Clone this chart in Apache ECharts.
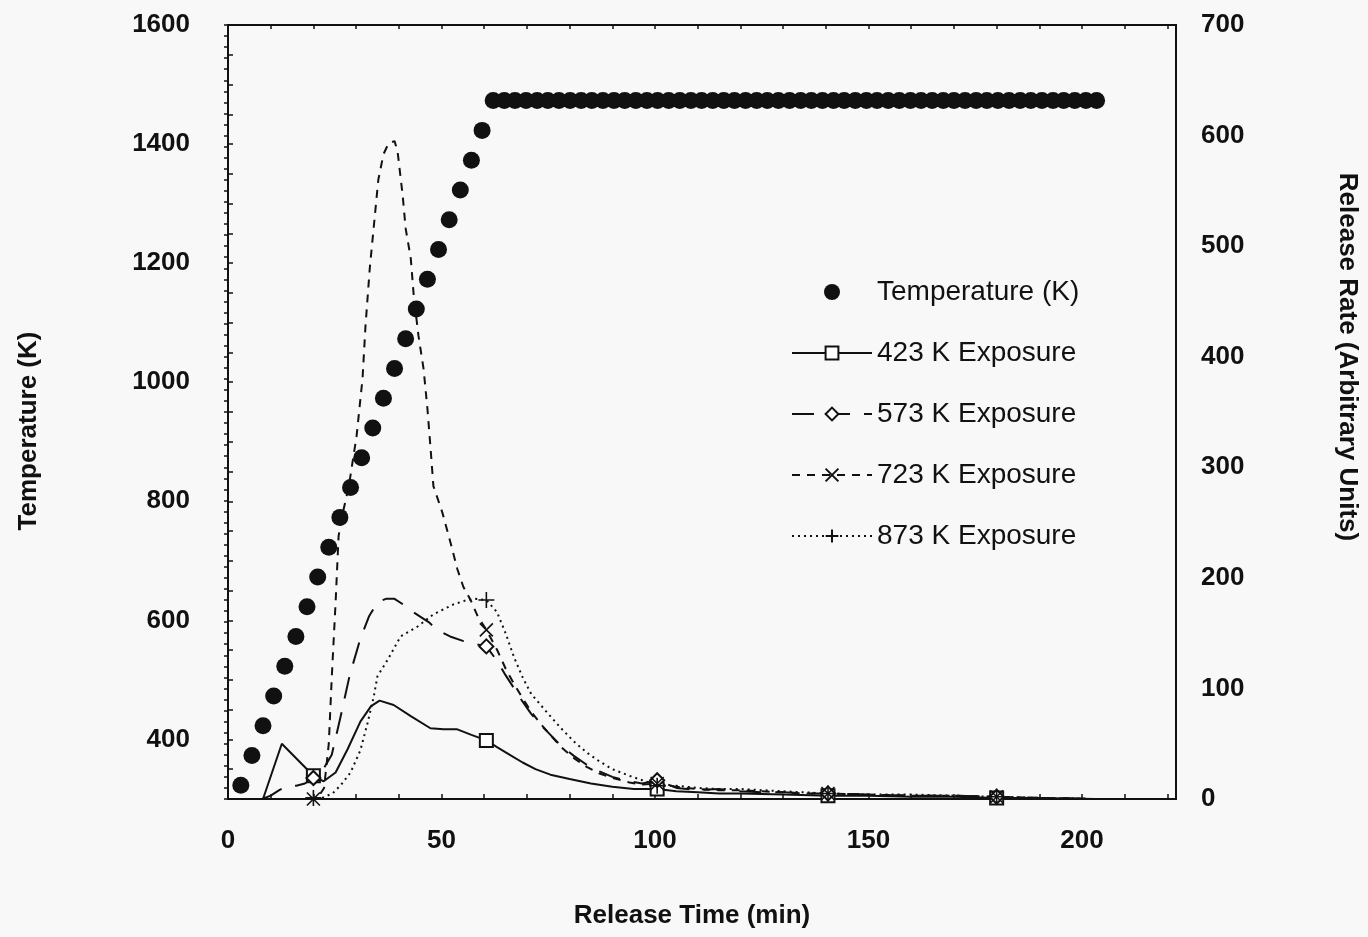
<!DOCTYPE html>
<html lang="en">
<head>
<meta charset="UTF-8">
<title>Release rate vs temperature</title>
<script src="https://cdn.jsdelivr.net/npm/echarts@6/dist/echarts.min.js"></script>
<style>
  html, body { margin: 0; padding: 0; background: #f8f8f8; }
  #box { width: 1368px; height: 937px; }
</style>
</head>
<body>
<div id="box"></div>
<script>
// temperature ramp (left axis, K)
var tempTime = [3.0, 5.6, 8.2, 10.7, 13.3, 15.9, 18.5, 21.0, 23.6, 26.2, 28.7, 31.3, 33.9, 36.4, 39.0, 41.6, 44.1, 46.7, 49.3, 51.8, 54.4, 57.0, 59.5,
  62.1, 64.7, 67.2, 69.8, 72.4, 74.9, 77.5, 80.1, 82.7, 85.2, 87.8, 90.4, 92.9, 95.5, 98.1, 100.6, 103.2, 105.8, 108.4, 110.9,
  113.5, 116.1, 118.6, 121.2, 123.8, 126.3, 128.9, 131.5, 134.1, 136.6, 139.2, 141.8, 144.3, 146.9, 149.5, 152.0, 154.6, 157.2,
  159.8, 162.3, 164.9, 167.5, 170.0, 172.6, 175.2, 177.7, 180.3, 182.9, 185.5, 188.0, 190.6, 193.2, 195.7, 198.3, 200.9, 203.4];
var tempK = [323, 373, 423, 473, 523, 573, 623, 673, 723, 773, 823, 873, 923, 973, 1023, 1073, 1123, 1173, 1223, 1273, 1323, 1373, 1423,
  1473, 1473, 1473, 1473, 1473, 1473, 1473, 1473, 1473, 1473, 1473, 1473, 1473, 1473, 1473, 1473, 1473, 1473, 1473, 1473,
  1473, 1473, 1473, 1473, 1473, 1473, 1473, 1473, 1473, 1473, 1473, 1473, 1473, 1473, 1473, 1473, 1473, 1473,
  1473, 1473, 1473, 1473, 1473, 1473, 1473, 1473, 1473, 1473, 1473, 1473, 1473, 1473, 1473, 1473, 1473, 1473];

// release rates (right axis, arbitrary units)
var r423Time = [8.2, 12.6, 20, 22.4, 25.2, 28, 31, 33.5, 35.5, 38.8, 42.8, 47.4, 50.5, 53.7, 57, 60.5, 63, 66, 69, 72,
  75.5, 80, 85, 90, 95, 100.5, 105, 110, 115, 120, 130, 140.5, 150, 160, 170, 180, 190, 203];
var r423Rate = [0, 50, 21, 16, 24, 45, 70, 84, 89, 85, 75, 64, 63, 63, 58, 53, 47, 40, 33, 27,
  22, 18, 14, 11, 9, 9, 7, 6, 5, 5, 4, 3, 3, 2, 2, 1, 1, 0];

var r573Time = [8, 10, 12, 13.5, 16, 18, 20, 22, 24.3, 26.4, 28.5, 31, 33, 35, 37, 39, 41, 43, 45, 47,
  49, 52, 55, 58, 60.5, 63, 65, 67, 69, 71, 73, 75, 78, 81, 84, 87, 90, 94, 97, 100.5,
  105, 110, 115, 120, 125, 130, 135, 140.5, 150, 160, 170, 180, 190, 203];
var r573Rate = [0, 3, 8, 11, 12, 14, 19, 25, 40, 75, 112, 145, 165, 178, 181, 181, 176, 170, 165, 160,
  153, 147, 143, 140, 138, 125, 112, 100, 88, 77, 68, 60, 48, 39, 31, 25, 20, 16, 14, 17,
  10, 8, 9, 7, 6, 6, 5, 5, 4, 3, 3, 2, 1, 0];

var r723Time = [8, 18, 20, 21.5, 22.5, 23.6, 24.3, 25.2, 25.9, 26.9, 28.3, 30.1, 31.5, 32.2, 33.2, 34.2, 35.2, 36.4, 37.6, 39,
  39.7, 40.9, 41.6, 42.8, 43.5, 44.6, 45.8, 46.7, 47.4, 48.1, 50.2, 52.1, 53.7, 55.1, 56.8, 58.5, 60.5,
  63, 65, 67, 69, 71, 73, 75, 78, 81, 84, 87, 90, 94, 97, 100.5,
  105, 110, 115, 120, 125, 130, 135, 140.5, 150, 160, 170, 180, 190, 203];
var r723Rate = [0, 0, 0, 4, 10, 50, 110, 178, 238, 259, 283, 328, 380, 428, 480, 520, 560, 583, 593, 595,
  586, 546, 516, 489, 455, 419, 389, 353, 319, 283, 259, 232, 208, 192, 180, 165, 153,
  135, 118, 104, 91, 79, 69, 60, 47, 37, 29, 23, 19, 15, 13, 14,
  11, 9, 8, 8, 7, 6, 5, 5, 4, 3, 3, 2, 1, 0];

var r873Time = [8, 18, 20, 22, 24.5, 26.5, 28.7, 31, 32.7, 34.1, 35, 37.4, 40.4, 44.4, 48.1, 52.8, 56, 58, 60.5,
  63, 65, 67, 69, 71, 73, 75, 78, 81, 84, 87, 90, 94, 97, 100.5,
  105, 110, 115, 120, 125, 130, 135, 140.5, 150, 160, 170, 180, 190, 203];
var r873Rate = [0, 0, 1, 1, 5, 13, 24, 44, 69, 92, 111, 126, 147, 156, 167, 176, 180, 181, 180,
  169, 150, 128, 110, 95, 86, 77, 64, 52, 42, 34, 27, 21, 17, 12,
  12, 10, 9, 9, 8, 7, 6, 5, 4, 4, 3, 2, 1, 0];

// times where the curves carry a symbol
var markerTimes = [20, 60.5, 100.5, 140.5, 180];

var font = 'Liberation Sans, Arial, sans-serif';
var ink = '#111';

function pairs(times, vals) {
  return times.map(function (t, i) { return [t, vals[i]]; });
}
// only every 40 min a marker, like the original plot
function withMarkers(times, vals) {
  return times.map(function (t, i) {
    if (markerTimes.indexOf(t) >= 0) return [t, vals[i]];
    return { value: [t, vals[i]], symbol: 'none' };
  });
}

function rateSeries(name, times, vals, symbol, size, dash) {
  return {
    name: name,
    type: 'line',
    xAxisIndex: 0,
    yAxisIndex: 1,
    data: withMarkers(times, vals),
    symbol: symbol,
    symbolSize: size,
    showAllSymbol: true,
    z: 3,
    lineStyle: { color: ink, width: 2, type: dash },
    itemStyle: { color: ink, borderColor: ink, borderWidth: 1.6 }
  };
}

var chart = echarts.init(document.getElementById('box'));
chart.setOption({
  backgroundColor: '#f8f8f8',
  animation: false,
  textStyle: { fontFamily: font, color: ink },
  grid: {
    left: 228, right: 190, top: 25, bottom: 138,
    show: true, borderColor: ink, borderWidth: 2, backgroundColor: 'transparent'
  },
  legend: {
    orient: 'vertical',
    left: 786,
    top: 272,
    itemWidth: 80,
    itemHeight: 16,
    itemGap: 31,
    textStyle: { fontFamily: font, fontSize: 28, color: ink, lineHeight: 30 },
    data: ['Temperature (K)', '423 K Exposure', '573 K Exposure', '723 K Exposure', '873 K Exposure']
  },
  xAxis: [{
    type: 'value',
    min: 0, max: 222, interval: 10,
    position: 'bottom',
    name: 'Release Time (min)',
    nameLocation: 'middle',
    nameGap: 104,
    nameTextStyle: { fontFamily: font, fontSize: 26, fontWeight: 'bold', color: ink, padding: [0, 20, 0, 0] },
    axisLine: { lineStyle: { color: ink, width: 2 } },
    axisTick: { inside: true, length: 5, lineStyle: { color: ink, width: 1.5 } },
    axisLabel: {
      fontSize: 26, fontWeight: 'bold', color: ink, margin: 29, showMaxLabel: false,
      formatter: function (v) { return v % 50 === 0 ? String(v) : ''; }
    },
    splitLine: { show: false }
  }, {
    type: 'value',
    min: 0, max: 222, interval: 10,
    position: 'top',
    axisLine: { lineStyle: { color: ink, width: 2 } },
    axisTick: { inside: true, length: 4, lineStyle: { color: ink, width: 1.5 } },
    axisLabel: { show: false },
    splitLine: { show: false }
  }],
  yAxis: [{
    type: 'value',
    min: 300, max: 1600, interval: 50,
    position: 'left',
    name: 'Temperature (K)',
    nameLocation: 'middle',
    nameGap: 186,
    nameTextStyle: { fontFamily: font, fontSize: 26, fontWeight: 'bold', color: ink, padding: [0, 38, 0, 0] },
    axisLine: { show: true, lineStyle: { color: ink, width: 2 } },
    axisTick: { show: true, inside: true, length: 5, lineStyle: { color: ink, width: 1.5 } },
    axisLabel: {
      fontSize: 26, fontWeight: 'bold', color: ink, margin: 38,
      formatter: function (v) { return v % 200 === 0 ? String(v) : ''; }
    },
    splitLine: { show: false }
  }, {
    type: 'value',
    min: 0, max: 700, interval: 10,
    position: 'right',
    name: 'Release Rate (Arbitrary Units)',
    nameLocation: 'middle',
    nameRotate: -90,
    nameGap: 158,
    nameTextStyle: { fontFamily: font, fontSize: 26, fontWeight: 'bold', color: ink, padding: [0, 110, 0, 0] },
    axisLine: { show: true, lineStyle: { color: ink, width: 2 } },
    axisTick: { show: true, inside: true, length: 4, lineStyle: { color: ink, width: 1.5 } },
    axisLabel: {
      fontSize: 26, fontWeight: 'bold', color: ink, margin: 25,
      formatter: function (v) { return v % 100 === 0 ? String(v) : ''; }
    },
    splitLine: { show: false }
  }],
  series: [
    {
      name: 'Temperature (K)',
      type: 'scatter',
      xAxisIndex: 0,
      yAxisIndex: 0,
      symbol: 'circle',
      symbolSize: 17,
      z: 4,
      itemStyle: { color: ink, opacity: 1 },
      data: pairs(tempTime, tempK)
    },
    rateSeries('423 K Exposure', r423Time, r423Rate, 'emptyRect', 13, 'solid'),
    rateSeries('573 K Exposure', r573Time, r573Rate, 'emptyDiamond', 14, [22, 14]),
    rateSeries('723 K Exposure', r723Time, r723Rate, 'path://M0,0L10,10M10,0L0,10', 13, [8, 7]),
    rateSeries('873 K Exposure', r873Time, r873Rate, 'path://M5,0L5,10M0,5L10,5', 16, [2, 4])
  ]
});
</script>
</body>
</html>
